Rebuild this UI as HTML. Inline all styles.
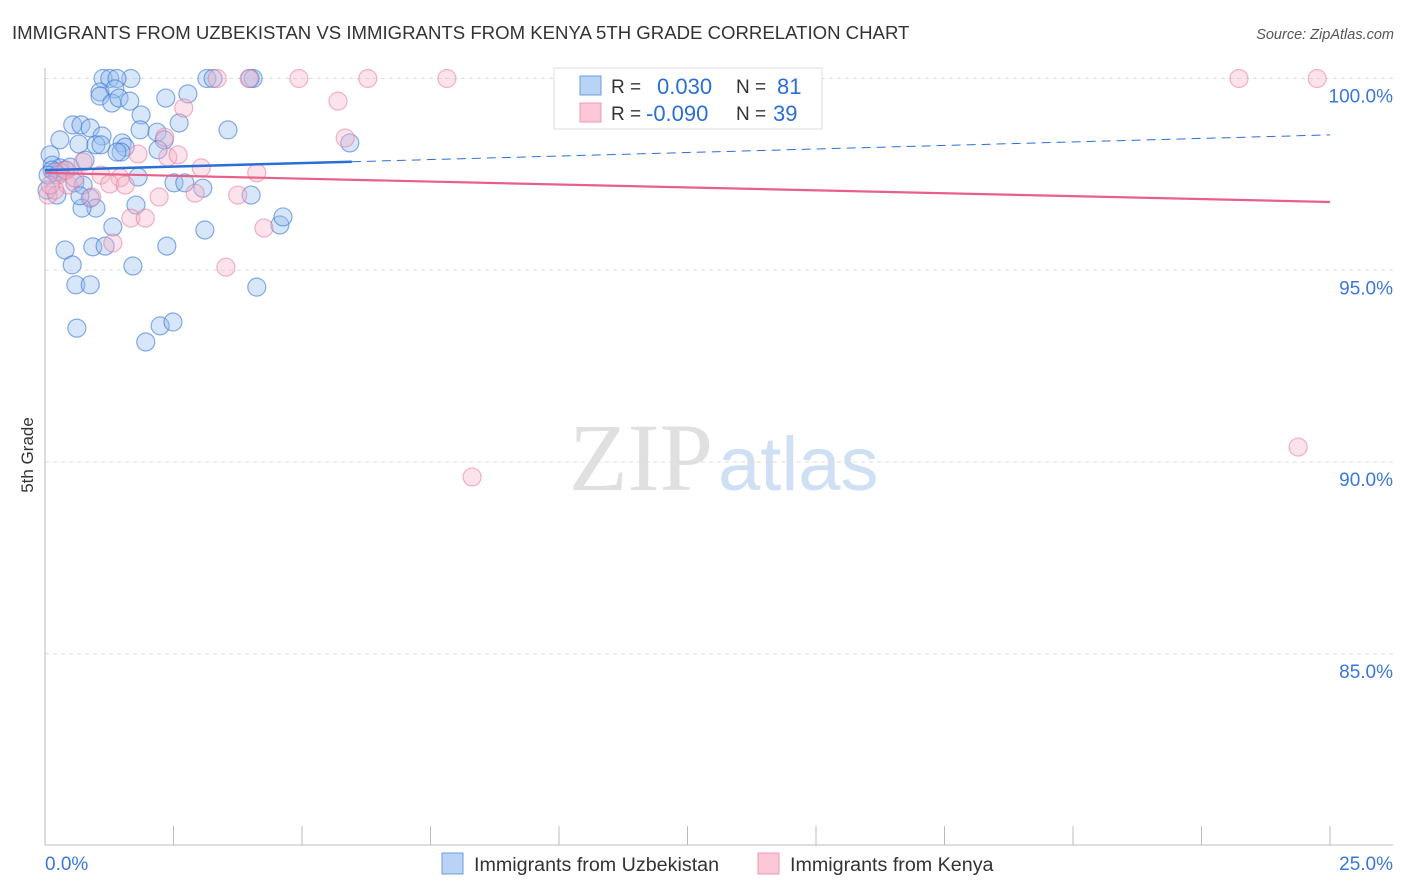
<!DOCTYPE html>
<html><head><meta charset="utf-8"><style>
body{margin:0;background:#fff;font-family:"Liberation Sans",sans-serif;}
#wrap{position:relative;width:1406px;height:892px;overflow:hidden;}
</style></head><body>
<div id="wrap">
<svg id="svg" width="1406" height="892" xmlns="http://www.w3.org/2000/svg">
<text x="12" y="39" font-size="18.6" fill="#333">IMMIGRANTS FROM UZBEKISTAN VS IMMIGRANTS FROM KENYA 5TH GRADE CORRELATION CHART</text>
<text x="1394" y="39" font-size="14.5" fill="#555" font-style="italic" text-anchor="end">Source: ZipAtlas.com</text>
<text x="33" y="455" font-size="17" fill="#333" transform="rotate(-90 33 455)" text-anchor="middle">5th Grade</text>
<g>
<text x="713" y="490" font-size="96" font-family="Liberation Serif,serif" fill="#e0e0e0" text-anchor="end">ZIP</text>
<text x="718" y="490" font-size="76" fill="#d0e0f4">atlas</text>
</g>
<g id="grid"></g><g id="axes"></g><g id="pts"></g><g id="trend"></g>
<g>
<rect x="554" y="68" width="268" height="61" fill="#fff" stroke="#ddd"/>
<rect x="580" y="76" width="21" height="19" fill="#b9d3f5" stroke="#6c9ee0"/>
<rect x="580" y="103" width="21" height="19" fill="#fcc7d6" stroke="#ef9ab4"/>
<text x="611" y="93" font-size="19" fill="#333">R =</text>
<text x="657" y="94" font-size="22" fill="#2a6fd6">0.030</text>
<text x="736" y="93" font-size="19" fill="#333">N =</text>
<text x="777" y="94" font-size="22" fill="#2a6fd6">81</text>
<text x="611" y="120" font-size="19" fill="#333">R =</text>
<text x="646" y="121" font-size="22" fill="#2a6fd6">-0.090</text>
<text x="736" y="120" font-size="19" fill="#333">N =</text>
<text x="773" y="121" font-size="22" fill="#2a6fd6">39</text>
</g>
<g>
<rect x="442" y="853" width="21" height="21" fill="#b9d3f5" stroke="#6c9ee0"/>
<text x="474" y="871" font-size="19.7" fill="#333">Immigrants from Uzbekistan</text>
<rect x="758" y="853" width="21" height="21" fill="#fcc7d6" stroke="#ef9ab4"/>
<text x="790" y="871" font-size="19.7" fill="#333">Immigrants from Kenya</text>
</g>
</svg>
</div>
<script>
const blueX=[1.13,1.26,1.67,1.40,3.15,3.27,4.05,3.99,1.07,1.36,1.07,1.30,1.44,1.65,2.35,2.78,1.87,1.85,2.18,2.61,3.56,2.32,5.93,0.29,0.54,0.70,0.88,1.11,0.66,0.99,1.09,1.50,1.56,1.48,1.40,2.20,0.10,0.14,0.29,0.39,0.49,0.19,0.78,1.81,2.51,2.72,3.07,4.01,0.04,0.23,0.58,0.74,0.88,0.99,0.72,0.68,1.77,1.32,3.11,4.57,4.63,0.39,0.93,1.17,2.37,0.53,1.71,0.60,0.88,4.12,0.62,2.24,2.49,1.96,0.14,0.25,0.06];
const blueY=[100,100,100,100,100,100,100,100,99.65,99.73,99.54,99.36,99.49,99.41,99.49,99.60,99.05,98.66,98.60,98.84,98.66,98.40,98.32,98.40,98.79,98.79,98.71,98.50,98.29,98.27,98.27,98.32,98.21,98.08,98.08,98.14,98.01,97.74,97.67,97.61,97.69,97.56,97.87,97.43,97.28,97.28,97.14,96.96,97.09,96.96,97.28,97.22,96.88,96.62,96.62,96.94,96.70,96.13,96.05,96.18,96.39,95.53,95.61,95.63,95.63,95.14,95.11,94.62,94.62,94.56,93.49,93.55,93.65,93.13,97.61,97.48,97.48];
const pinkX=[3.35,3.97,4.94,6.28,7.82,23.23,24.75,5.70,2.70,5.84,2.33,2.39,2.59,1.81,0.74,3.04,4.12,1.09,1.46,1.26,2.92,0.45,0.91,3.75,2.22,1.67,1.95,4.26,1.32,3.52,8.31,24.38,0.06,0.19,0.29,0.10,0.41,0.58,1.56];
const pinkY=[100,100,100,100,100,100,100,99.41,99.23,98.45,98.47,97.95,98.01,98.03,97.82,97.67,97.54,97.48,97.41,97.25,97.01,97.22,96.91,96.96,96.91,96.36,96.36,96.10,95.71,95.08,89.61,90.39,96.96,97.09,97.56,97.22,97.61,97.41,97.22];
const yTicks=[100,95,90,85];
const yTickLabels=["100.0%","95.0%","90.0%","85.0%"];
const xTicks=[0,2.5,5,7.5,10,12.5,15,17.5,20,22.5,25];
const blueTrend=[97.61,98.53];
const blueSolidEnd=5.97;
const pinkTrend=[97.54,96.78];

const NS="http://www.w3.org/2000/svg";
const sx=v=>45+v/25*1285;
const sy=v=>78.5+(100-v)*38.35;
function mk(tag,attrs,parent){const e=document.createElementNS(NS,tag);for(const k in attrs)e.setAttribute(k,attrs[k]);parent.appendChild(e);return e;}
const grid=document.getElementById('grid'),axes=document.getElementById('axes'),pts=document.getElementById('pts'),trend=document.getElementById('trend');
yTicks.forEach((t,i)=>{
 const l=mk('line',{x1:45,x2:1393,y1:sy(t),y2:sy(t),stroke:'#ddd','stroke-dasharray':'4,4'},grid);
 
 
 const tx=mk('text',{x:1393,y:sy(t)+24,'font-size':19,fill:'#3a78d8','text-anchor':'end'},grid);
 tx.textContent=yTickLabels[i];
 
 
});
const ya=mk('line',{x1:45,x2:45,y1:68,y2:845,stroke:'#bbb'},axes);


const xa=mk('line',{x1:45,x2:1393,y1:845,y2:845,stroke:'#bbb'},axes);


xTicks.forEach(t=>{
 const l=mk('line',{x1:sx(t),x2:sx(t),y1:826,y2:845,stroke:'#bbb'},axes);
 
 
});
const xl0=mk('text',{x:45,y:870,'font-size':19,fill:'#3a78d8'},axes);xl0.textContent='0.0%';


const xl1=mk('text',{x:1393,y:870,'font-size':19,fill:'#3a78d8','text-anchor':'end'},axes);xl1.textContent='25.0%';


blueX.forEach((x,i)=>{
 const c=mk('circle',{cx:sx(x),cy:sy(blueY[i]),r:9,fill:'rgba(150,190,240,0.38)',stroke:'rgba(60,120,215,0.6)','stroke-width':1.2},pts);
 
 
});
pinkX.forEach((x,i)=>{
 const c=mk('circle',{cx:sx(x),cy:sy(pinkY[i]),r:9,fill:'rgba(248,180,200,0.38)',stroke:'rgba(232,120,155,0.55)','stroke-width':1.2},pts);
 
 
});
const bAt=x=>blueTrend[0]+(blueTrend[1]-blueTrend[0])*x/25;
const b1=mk('line',{x1:sx(0),y1:sy(blueTrend[0]),x2:sx(blueSolidEnd),y2:sy(bAt(blueSolidEnd)),stroke:'#2a6fd6','stroke-width':2.5},trend);


const b2=mk('line',{x1:sx(blueSolidEnd),y1:sy(bAt(blueSolidEnd)),x2:sx(25),y2:sy(blueTrend[1]),stroke:'#2a6fd6','stroke-width':1,'stroke-dasharray':'9,6'},trend);


const p1=mk('line',{x1:sx(0),y1:sy(pinkTrend[0]),x2:sx(25),y2:sy(pinkTrend[1]),stroke:'#e8608a','stroke-width':2.2},trend);


</script>
</body></html>
